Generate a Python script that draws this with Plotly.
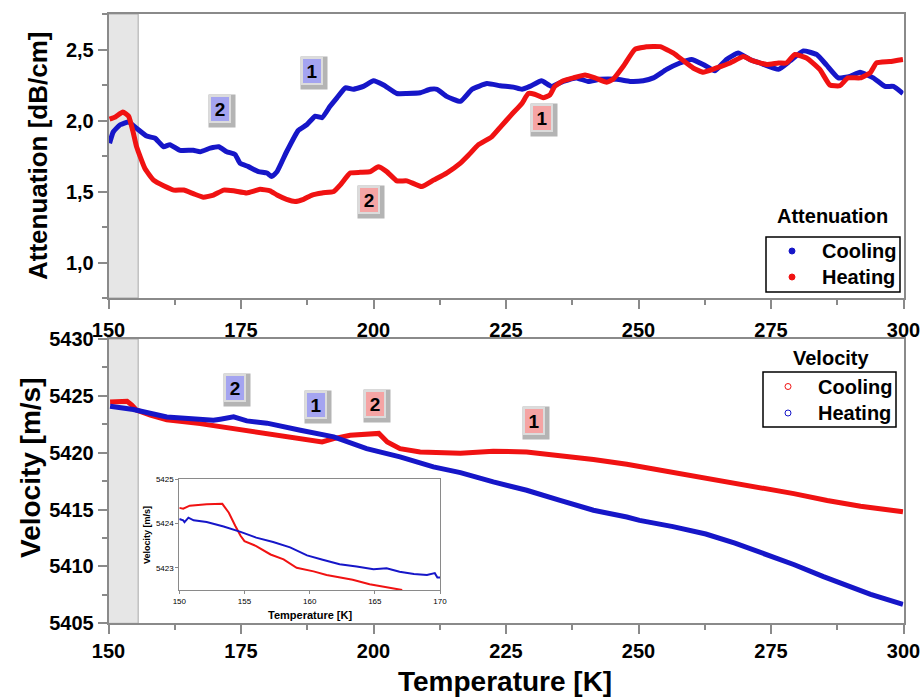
import plotly.graph_objects as go

# ---------------- DATA ----------------
# Attenuation, Cooling (blue)
att_cool_T = [150.2,150.9,152.2,153.8,155.3,157.2,158.8,160.4,161.6,163.5,166.0,167.3,169.2,170.8,172.3,173.9,174.8,176.4,178.3,179.9,180.8,181.8,183.6,185.8,187.4,189.0,190.3,191.8,193.1,194.7,196.2,198.1,200.0,201.9,204.4,206.3,208.8,210.7,212.0,213.8,216.4,218.6,221.4,223.9,226.4,228.0,229.5,231.7,233.6,235.8,238.3,240.5,242.7,245.9,248.4,250.9,252.8,255.3,257.8,260.0,262.2,264.4,266.6,268.8,271.0,272.9,276.4,278.6,281.1,283.6,285.5,287.7,289.9,291.8,294.3,296.5,298.1,299.9]
att_cool_A = [1.84,1.92,1.97,1.99,1.945,1.89,1.875,1.815,1.83,1.79,1.79,1.78,1.805,1.815,1.78,1.76,1.70,1.675,1.64,1.63,1.605,1.64,1.78,1.93,1.97,2.03,2.02,2.10,2.16,2.23,2.22,2.24,2.28,2.25,2.19,2.19,2.195,2.22,2.22,2.17,2.135,2.22,2.26,2.245,2.235,2.22,2.24,2.28,2.24,2.275,2.30,2.275,2.29,2.29,2.275,2.28,2.30,2.36,2.405,2.43,2.395,2.35,2.43,2.475,2.43,2.405,2.36,2.42,2.49,2.465,2.39,2.30,2.31,2.34,2.30,2.24,2.24,2.19]

# Attenuation, Heating (red)
att_heat_T = [150.2,151.3,152.7,153.8,154.7,155.3,156.9,158.5,160.4,162.3,164.2,166.0,167.9,169.8,171.7,173.6,176.1,178.6,180.5,181.8,183.6,185.2,186.8,188.4,190.3,192.5,193.7,195.6,197.5,199.4,200.9,202.5,204.4,206.3,209.1,211.3,213.8,216.4,217.9,219.8,222.3,224.1,226.0,228.0,229.2,230.4,232.0,233.3,234.2,235.8,237.7,239.9,241.8,244.0,245.2,247.1,249.3,251.5,254.1,256.6,258.5,260.3,262.2,264.7,267.3,269.8,271.6,274.2,276.4,277.9,279.5,281.7,284.2,286.1,288.0,289.5,291.8,293.7,294.9,297.4,299.9]
att_heat_A = [2.01,2.025,2.06,2.03,1.91,1.815,1.66,1.58,1.54,1.51,1.51,1.485,1.46,1.475,1.51,1.505,1.49,1.515,1.505,1.475,1.445,1.43,1.445,1.475,1.49,1.50,1.545,1.63,1.635,1.64,1.675,1.64,1.575,1.575,1.535,1.58,1.63,1.70,1.755,1.83,1.885,1.96,2.04,2.12,2.19,2.185,2.16,2.18,2.24,2.28,2.30,2.32,2.30,2.27,2.29,2.38,2.50,2.52,2.52,2.475,2.42,2.37,2.34,2.37,2.405,2.45,2.42,2.395,2.405,2.405,2.465,2.44,2.36,2.25,2.245,2.30,2.30,2.335,2.405,2.415,2.43]

# Velocity, red curve (legend: Cooling)
vel_red_T = [150.3,153.5,154.4,155.3,157.9,161.0,167.3,173.6,179.9,186.2,190.3,192.5,195.6,201.0,202.6,205.0,208.8,216.4,222.6,228.9,235.2,241.5,247.8,254.1,260.4,266.7,273.0,279.3,285.6,291.9,299.9]
vel_red_V = [5424.47,5424.53,5424.18,5423.74,5423.3,5422.9,5422.56,5422.1,5421.7,5421.24,5420.95,5421.24,5421.54,5421.7,5420.95,5420.36,5420.07,5419.95,5420.13,5420.07,5419.78,5419.4,5418.98,5418.46,5418.0,5417.5,5417.0,5416.4,5415.8,5415.3,5414.8]

# Velocity, blue curve (legend: Heating)
vel_blue_T = [150.3,154.7,161.0,167.3,169.8,171.1,173.6,176.1,179.9,186.2,189.9,192.5,198.7,205.0,211.3,216.4,222.6,228.9,235.2,241.5,247.8,250.2,256.5,262.7,268.2,273.8,279.4,284.9,289.4,293.8,299.9]
vel_blue_V = [5424.09,5423.8,5423.15,5422.9,5422.86,5422.95,5423.15,5422.8,5422.6,5421.98,5421.68,5421.4,5420.36,5419.63,5418.75,5418.25,5417.43,5416.7,5415.8,5414.94,5414.35,5414.05,5413.5,5412.85,5412.05,5411.15,5410.15,5409.1,5408.35,5407.55,5406.66]

# Inset (zoom 150-170 K)
ins_red_T = [150.0,150.3,150.8,152.1,153.3,153.8,154.3,154.7,155.0,155.9,157.0,158.0,159.0,160.3,161.3,162.3,163.3,164.6,165.9,167.1]
ins_red_V = [5424.35,5424.33,5424.4,5424.43,5424.44,5424.24,5423.94,5423.72,5423.6,5423.49,5423.3,5423.19,5423.0,5422.92,5422.84,5422.78,5422.73,5422.63,5422.56,5422.5]
ins_blue_T = [150.0,150.3,150.4,150.7,151.1,152.1,153.4,154.7,155.9,157.2,158.5,159.8,161.0,162.3,163.6,164.9,165.9,166.9,168.0,169.0,169.6,169.8,170.0]
ins_blue_V = [5424.1,5424.07,5424.03,5424.13,5424.07,5424.03,5423.93,5423.81,5423.68,5423.58,5423.46,5423.28,5423.18,5423.08,5423.03,5422.97,5422.99,5422.91,5422.86,5422.84,5422.88,5422.78,5422.78]

att_ticks = [1.0, 1.5, 2.0, 2.5]
att_ticktext = ["1,0", "1,5", "2,0", "2,5"]
temp_ticks = [150, 175, 200, 225, 250, 275, 300]
vel_ticks = [5405, 5410, 5415, 5420, 5425, 5430]
ins_xticks = [150, 155, 160, 165, 170]
ins_yticks = [5423, 5424, 5425]
shade_range = [150, 155.6]
legend_names = ["Cooling", "Heating"]

BLUE = "#1616c8"
RED = "#f01212"
FONT = "Liberation Sans"
GRID = "#8a8a8a"

fig = go.Figure()

fig.add_trace(go.Scatter(x=att_cool_T, y=att_cool_A, mode="lines", name="Cooling",
                         line=dict(color=BLUE, width=5, shape="spline", smoothing=0.4), xaxis="x", yaxis="y"))
fig.add_trace(go.Scatter(x=att_heat_T, y=att_heat_A, mode="lines", name="Heating",
                         line=dict(color=RED, width=5, shape="spline", smoothing=0.4), xaxis="x", yaxis="y"))
fig.add_trace(go.Scatter(x=vel_red_T, y=vel_red_V, mode="lines", name="Cooling",
                         line=dict(color=RED, width=5), xaxis="x2", yaxis="y2"))
fig.add_trace(go.Scatter(x=vel_blue_T, y=vel_blue_V, mode="lines", name="Heating",
                         line=dict(color=BLUE, width=5), xaxis="x2", yaxis="y2"))
fig.add_trace(go.Scatter(x=ins_red_T, y=ins_red_V, mode="lines", line=dict(color=RED, width=2),
                         xaxis="x3", yaxis="y3"))
fig.add_trace(go.Scatter(x=ins_blue_T, y=ins_blue_V, mode="lines", line=dict(color=BLUE, width=2),
                         xaxis="x3", yaxis="y3"))

W, H = 922, 699
def px(v): return v / W
def py(v): return 1 - v / H

axis_common = dict(showline=True, linecolor=GRID, linewidth=1.5, mirror=True, ticks="outside",
                   tickcolor=GRID, ticklen=9, tickwidth=1.5, showgrid=False, zeroline=False, automargin=False,
                   tickfont=dict(family=FONT, size=20, color="black", weight="bold"))
inset_common = dict(showline=True, linecolor=GRID, linewidth=1, mirror=True, ticks="outside", ticklen=3,
                    tickcolor=GRID, showgrid=False, zeroline=False, automargin=False,
                    tickfont=dict(family=FONT, size=8, color="black"))

fig.update_layout(
    width=W, height=H, margin=dict(l=0, r=0, t=0, b=0, autoexpand=False),
    paper_bgcolor="white", plot_bgcolor="white", showlegend=False,
    xaxis=dict(domain=[px(108.5), px(903.5)], anchor="y", range=[150, 300], tickvals=temp_ticks,
               minor=dict(dtick=12.5, ticklen=5, tickcolor=GRID, ticks="outside"), ticklabelstandoff=4, **axis_common),
    yaxis=dict(domain=[py(298), py(14)], anchor="x", range=[0.75, 2.75], tickvals=att_ticks, ticktext=att_ticktext,
               minor=dict(dtick=0.25, ticklen=5, tickcolor=GRID, ticks="outside"), **axis_common),
    xaxis2=dict(domain=[px(108.5), px(903.5)], anchor="y2", range=[150, 300], tickvals=temp_ticks,
                minor=dict(dtick=12.5, ticklen=5, tickcolor=GRID, ticks="outside"), ticklabelstandoff=0, **axis_common),
    yaxis2=dict(domain=[py(623.3), py(339)], anchor="x2", range=[5405, 5430], tickvals=vel_ticks,
                minor=dict(dtick=2.5, ticklen=5, tickcolor=GRID, ticks="outside"), **axis_common),
    xaxis3=dict(domain=[px(179.3), px(440)], anchor="y3", range=[150, 170], tickvals=ins_xticks, **inset_common),
    yaxis3=dict(domain=[py(590), py(479)], anchor="x3", range=[5422.5, 5425], tickvals=ins_yticks, **inset_common),
)

# shaded bands
for xr, yr in (("x", "y domain"), ("x2", "y2 domain")):
    fig.add_shape(type="rect", xref=xr, yref=yr, x0=shade_range[0], x1=shade_range[1], y0=0, y1=1,
                  fillcolor="#e6e6e6", line=dict(color="#a8a8a8", width=1), layer="below")

def txt(text, x, y, size, angle=0, xanchor="center"):
    return dict(text="<b>%s</b>" % text, xref="paper", yref="paper", x=px(x), y=py(y),
                xanchor=xanchor, yanchor="middle", textangle=angle, showarrow=False,
                font=dict(family=FONT, size=size, color="black"))

ann = [
    txt("Attenuation [dB/cm]", 38, 156, 26, -90),
    txt("Velocity [m/s]", 30, 468, 28, -90),
    txt("Temperature [K]", 505, 681, 28),
    txt("Attenuation", 832, 216, 20),
    txt("Velocity", 831, 358, 20),
    txt("Temperature [K]", 310, 615, 11),
    txt("Velocity [m/s]", 147, 535, 9, -90),
]

# legend boxes (drawn)
legends = [
    (766, 900, 237, 292, 792, 820, [251, 277], [BLUE, RED], False),
    (763, 896, 372, 427, 788, 816, [386.5, 413], [RED, BLUE], True),
]
for x0, x1, y0, y1, mx, tx, rows, cols, open_ in legends:
    fig.add_shape(type="rect", xref="paper", yref="paper", x0=px(x0), x1=px(x1), y0=py(y1), y1=py(y0),
                  line=dict(color="black", width=1.5), fillcolor="white")
    for name, ry, c in zip(legend_names, rows, cols):
        r = 3
        fig.add_shape(type="circle", xref="paper", yref="paper", x0=px(mx - r), x1=px(mx + r),
                      y0=py(ry + r), y1=py(ry - r), line=dict(color=c, width=1),
                      fillcolor=("rgba(0,0,0,0)" if open_ else c))
        ann.append(txt(name, tx, ry, 20, 0, "left"))

# numbered markers
labels = [
    ("2", "x", "y", 171.0, 2.083, "#a4a4f0"),
    ("1", "x", "y", 188.4, 2.35, "#a4a4f0"),
    ("2", "x", "y", 199.2, 1.44, "#f5a4a4"),
    ("1", "x", "y", 231.7, 2.02, "#f5a4a4"),
    ("2", "x2", "y2", 173.9, 5425.7, "#a4a4f0"),
    ("1", "x2", "y2", 189.1, 5424.2, "#a4a4f0"),
    ("2", "x2", "y2", 200.3, 5424.3, "#f5a4a4"),
    ("1", "x2", "y2", 230.3, 5422.8, "#f5a4a4"),
]
for t, xr, yr, xv, yv, col in labels:
    ann.append(dict(text="", xref=xr, yref=yr, x=xv, y=yv, xshift=2, yshift=-2, showarrow=False,
                    width=24, height=30, bgcolor="#b4b4b4"))
    ann.append(dict(text="<b>%s</b>" % t, xref=xr, yref=yr, x=xv, y=yv, showarrow=False,
                    width=18, height=24, bgcolor=col, bordercolor="#dcdcdc", borderwidth=2, borderpad=0,
                    font=dict(family=FONT, size=19, color="black")))

fig.update_layout(annotations=ann)
fig.write_html("out.html")
